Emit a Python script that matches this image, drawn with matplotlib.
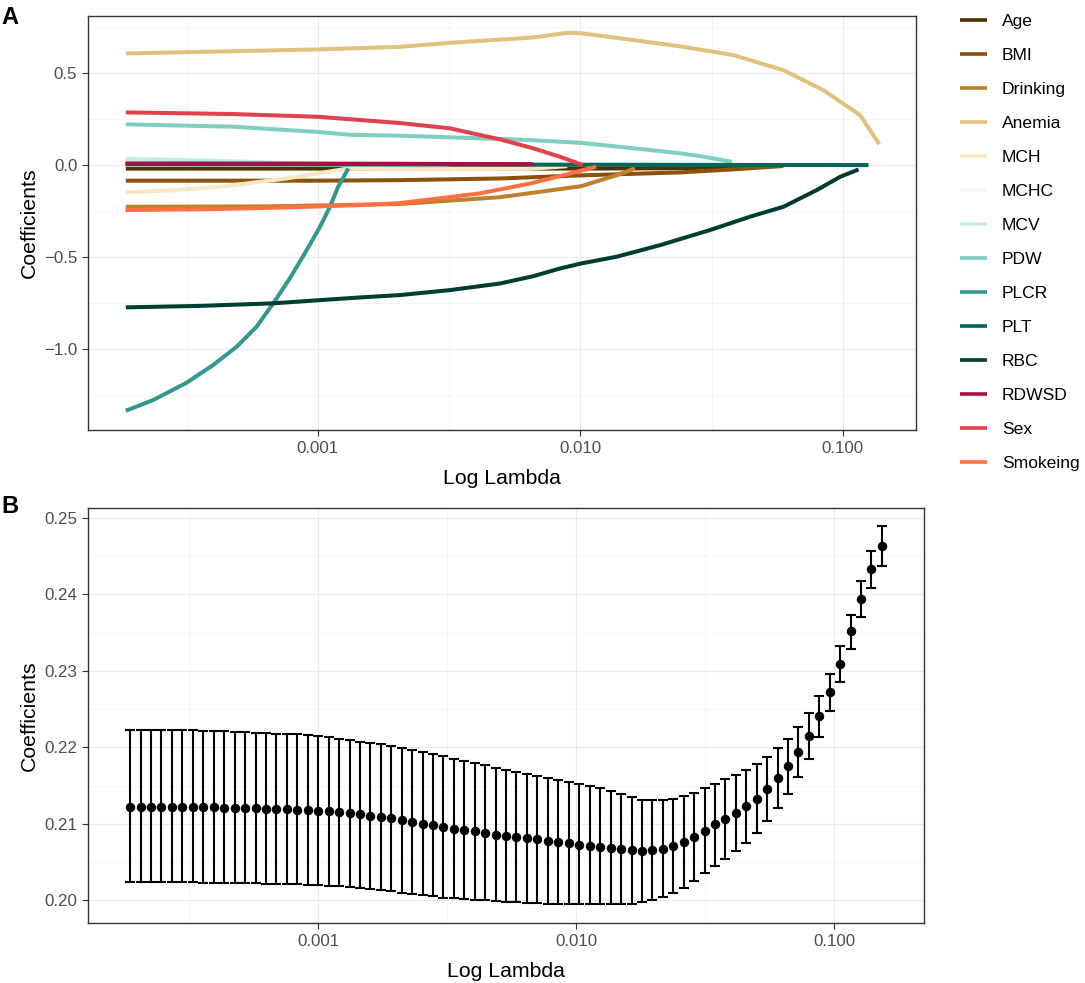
import numpy as np
import matplotlib
matplotlib.use("Agg")
from matplotlib import pyplot as plt
from matplotlib.lines import Line2D

plt.rcParams['font.family'] = ['Liberation Sans', 'DejaVu Sans']

# ---- panel A: coefficient paths (log10 lambda, coefficient) ----
variables = ['Age', 'BMI', 'Drinking', 'Anemia', 'MCH', 'MCHC', 'MCV', 'PDW',
             'PLCR', 'PLT', 'RBC', 'RDWSD', 'Sex', 'Smokeing']
colors = ['#543005', '#8C510A', '#BF812D', '#DFC27D', '#F6E8C3', '#F5F5F5',
          '#C7EAE5', '#80CDC1', '#35978F', '#01665E', '#003C30', '#A50F44',
          '#E0414F', '#FF7043']

age_x = [-3.732, -3.0, -2.5, -2.0, -1.62, -1.40, -1.227]
age_y = [-0.019, -0.019, -0.019, -0.019, -0.017, -0.011, -0.004]
bmi_x = [-3.732, -3.0, -2.687, -2.306, -1.997, -1.62, -1.40, -1.227]
bmi_y = [-0.085, -0.085, -0.082, -0.073, -0.056, -0.040, -0.022, -0.005]
drinking_x = [-3.732, -3.2, -2.687, -2.306, -1.997, -1.861, -1.792]
drinking_y = [-0.227, -0.225, -0.212, -0.175, -0.115, -0.055, -0.018]
anemia_x = [-3.732, -3.0, -2.687, -2.497, -2.179, -2.052, -1.997, -1.798,
            -1.607, -1.417, -1.226, -1.074, -0.934, -0.861]
anemia_y = [0.608, 0.630, 0.644, 0.666, 0.695, 0.720, 0.718, 0.681,
            0.644, 0.599, 0.517, 0.408, 0.272, 0.114]
mch_x = [-3.733, -3.55, -3.374, -3.119, -2.891, -2.6, -2.19, -2.05]
mch_y = [-0.149, -0.137, -0.118, -0.073, -0.020, -0.022, -0.020, -0.006]
mchc_x = [-3.733, -2.5]
mchc_y = [0.0, 0.0]
mcv_x = [-3.733, -3.4, -3.1, -2.9]
mcv_y = [0.034, 0.024, 0.010, 0.002]
pdw_x = [-3.732, -3.324, -3.005, -2.878, -2.687, -2.382, -2.19, -1.997,
         -1.734, -1.62, -1.544, -1.423]
pdw_y = [0.222, 0.209, 0.181, 0.165, 0.160, 0.146, 0.136, 0.121,
         0.082, 0.064, 0.049, 0.018]
plcr_x = [-3.732, -3.628, -3.501, -3.399, -3.310, -3.234, -3.170, -3.107,
          -3.050, -2.992, -2.954, -2.923, -2.884]
plcr_y = [-1.338, -1.280, -1.186, -1.089, -0.990, -0.881, -0.753, -0.617,
          -0.481, -0.336, -0.227, -0.118, -0.018]
plt_x = [-3.733, -2.5, -1.5, -0.902]
plt_y = [0.004, 0.003, 0.001, 0.0]
rbc_x = [-3.732, -3.45, -3.170, -2.840, -2.687, -2.497, -2.306, -2.179, -2.077,
         -1.997, -1.861, -1.696, -1.506, -1.353, -1.226, -1.099, -1.010, -0.940]
rbc_y = [-0.775, -0.767, -0.753, -0.721, -0.708, -0.681, -0.645, -0.605, -0.563,
         -0.536, -0.499, -0.436, -0.354, -0.281, -0.227, -0.136, -0.064, -0.024]
rdwsd_x = [-3.733, -3.0, -2.181]
rdwsd_y = [0.009, 0.008, 0.005]
sex_x = [-3.732, -3.324, -3.0, -2.687, -2.497, -2.306, -2.179, -2.077, -1.990]
sex_y = [0.287, 0.278, 0.263, 0.229, 0.200, 0.140, 0.091, 0.045, 0.0]
smoke_x = [-3.733, -3.4, -3.1, -2.84, -2.687, -2.382, -2.19, -2.05, -1.94]
smoke_y = [-0.245, -0.240, -0.230, -0.218, -0.207, -0.154, -0.100, -0.050, -0.009]

paths = [(age_x, age_y), (bmi_x, bmi_y), (drinking_x, drinking_y),
         (anemia_x, anemia_y), (mch_x, mch_y), (mchc_x, mchc_y), (mcv_x, mcv_y),
         (pdw_x, pdw_y), (plcr_x, plcr_y), (plt_x, plt_y), (rbc_x, rbc_y),
         (rdwsd_x, rdwsd_y), (sex_x, sex_y), (smoke_x, smoke_y)]

# ---- panel B: cross-validation curve ----
log_lambda = [-3.729, -3.689, -3.648, -3.608, -3.567, -3.527, -3.486, -3.446,
              -3.405, -3.365, -3.324, -3.284, -3.243, -3.203, -3.162, -3.122,
              -3.081, -3.041, -3.000, -2.960, -2.920, -2.879, -2.839, -2.798,
              -2.758, -2.717, -2.677, -2.636, -2.596, -2.555, -2.515, -2.474,
              -2.434, -2.393, -2.353, -2.313, -2.272, -2.232, -2.191, -2.151,
              -2.110, -2.070, -2.029, -1.989, -1.948, -1.908, -1.867, -1.827,
              -1.786, -1.746, -1.706, -1.665, -1.625, -1.584, -1.544, -1.503,
              -1.463, -1.422, -1.382, -1.341, -1.301, -1.260, -1.220, -1.179,
              -1.139, -1.099, -1.058, -1.018, -0.977, -0.937, -0.896, -0.856,
              -0.815]
cv_mean = [0.21219, 0.21219, 0.21219, 0.21219, 0.21219, 0.21219, 0.21219, 0.21215,
           0.21215, 0.21211, 0.21211, 0.21206, 0.21202, 0.21198, 0.21193, 0.21189,
           0.21185, 0.21176, 0.21172, 0.21163, 0.21154, 0.21141, 0.21124, 0.21106,
           0.21089, 0.21071, 0.21045, 0.21023, 0.21002, 0.20980, 0.20958, 0.20936,
           0.20919, 0.20901, 0.20880, 0.20854, 0.20836, 0.20823, 0.20810, 0.20797,
           0.20775, 0.20758, 0.20745, 0.20727, 0.20710, 0.20697, 0.20679, 0.20666,
           0.20653, 0.20649, 0.20657, 0.20675, 0.20709, 0.20762, 0.20827, 0.20910,
           0.20993, 0.21062, 0.21137, 0.21228, 0.21324, 0.21450, 0.21594, 0.21755,
           0.21934, 0.22147, 0.22404, 0.22718, 0.23093, 0.23515, 0.23942, 0.24334,
           0.24634]
cv_upper = [0.22225, 0.22225, 0.22225, 0.22225, 0.22225, 0.22225, 0.22221, 0.22217,
            0.22212, 0.22208, 0.22199, 0.22195, 0.22186, 0.22182, 0.22178, 0.22173,
            0.22169, 0.22160, 0.22151, 0.22135, 0.22115, 0.22090, 0.22075, 0.22057,
            0.22038, 0.22021, 0.21995, 0.21968, 0.21938, 0.21912, 0.21881, 0.21851,
            0.21820, 0.21790, 0.21764, 0.21733, 0.21703, 0.21672, 0.21655, 0.21629,
            0.21603, 0.21577, 0.21550, 0.21520, 0.21489, 0.21463, 0.21428, 0.21385,
            0.21350, 0.21316, 0.21307, 0.21310, 0.21324, 0.21359, 0.21406, 0.21467,
            0.21524, 0.21585, 0.21633, 0.21699, 0.21777, 0.21868, 0.21986, 0.22109,
            0.22260, 0.22447, 0.22669, 0.22957, 0.23319, 0.23733, 0.24172, 0.24573,
            0.24890]
cv_lower = [0.20235, 0.20235, 0.20235, 0.20235, 0.20235, 0.20234, 0.20233, 0.20232,
            0.20231, 0.20229, 0.20227, 0.20225, 0.20222, 0.20219, 0.20216, 0.20212,
            0.20208, 0.20203, 0.20198, 0.20193, 0.20187, 0.20174, 0.20161, 0.20148,
            0.20131, 0.20118, 0.20096, 0.20078, 0.20065, 0.20052, 0.20035, 0.20026,
            0.20017, 0.20009, 0.20000, 0.19991, 0.19983, 0.19974, 0.19965, 0.19961,
            0.19956, 0.19952, 0.19952, 0.19948, 0.19948, 0.19948, 0.19948, 0.19948,
            0.19957, 0.19974, 0.20004, 0.20043, 0.20095, 0.20166, 0.20252, 0.20353,
            0.20448, 0.20545, 0.20644, 0.20754, 0.20884, 0.21032, 0.21207, 0.21394,
            0.21607, 0.21851, 0.22139, 0.22474, 0.22861, 0.23288, 0.23706, 0.24085,
            0.24377]

W, H = 1085, 983
fig = plt.figure(figsize=(W / 100, H / 100), dpi=100)
fig.patch.set_facecolor('white')


def style_axes(ax, yticks, ylabels, yminor, xlim):
    ax.set_xscale('log')
    ax.set_xlim(*xlim)
    ax.set_xticks([0.001, 0.01, 0.1])
    ax.set_xticklabels(['0.001', '0.010', '0.100'])
    ax.set_xticks([10 ** -3.5, 10 ** -2.5, 10 ** -1.5], minor=True)
    ax.set_yticks(yticks)
    ax.set_yticklabels(ylabels)
    ax.set_yticks(yminor, minor=True)
    ax.grid(True, which='major', color='#EBEBEB', linewidth=0.8, zorder=0)
    ax.grid(True, which='minor', color='#F2F2F2', linewidth=0.5, zorder=0)
    ax.set_axisbelow(True)
    ax.tick_params(which='major', length=4.5, width=0.8, color='#333333',
                   labelsize=12.2, labelcolor='#4D4D4D', pad=3.2)
    ax.tick_params(which='minor', length=0)
    for s in ax.spines.values():
        s.set_color('#333333')
        s.set_linewidth(1.0)
    ax.set_xlabel('Log Lambda', fontsize=15.3, labelpad=9.5)
    ax.set_ylabel('Coefficients', fontsize=15.3, labelpad=4)


# panel A
axA = fig.add_axes([88 / W, 1 - 430 / H, (916 - 88) / W, (430 - 16) / H])
for name, col, (px, py) in zip(variables, colors, paths):
    axA.plot(10 ** np.array(px), py, color=col, lw=2.9, solid_capstyle='butt',
             solid_joinstyle='round', label=name, zorder=3)
style_axes(axA, [0.5, 0.0, -0.5, -1.0], ['0.5', '0.0', '\u22120.5', '\u22121.0'],
           [0.75, 0.25, -0.25, -0.75, -1.25], (10 ** -3.876, 10 ** -0.721))
axA.set_ylim(-1.443, 0.812)

handles = [Line2D([0], [0], color=c, lw=2.6, solid_capstyle='butt') for c in colors]
fig.legend(handles, variables, loc='upper left', bbox_to_anchor=(960 / W, 1 - 14 / H),
           frameon=False, fontsize=12.6, handlelength=1.55, handletextpad=0.85,
           labelspacing=1.07, borderpad=0, borderaxespad=0)

# panel B
axB = fig.add_axes([88 / W, 1 - 923 / H, (924 - 88) / W, (923 - 508) / H])
lam = 10 ** np.array(log_lambda)
mean = np.array(cv_mean)
err = [mean - np.array(cv_lower), np.array(cv_upper) - mean]
axB.errorbar(lam, mean, yerr=err, fmt='o', color='black', ms=5.8, elinewidth=1.5,
             capsize=3.3, capthick=1.5, zorder=3)
style_axes(axB, [0.20, 0.21, 0.22, 0.23, 0.24, 0.25],
           ['0.20', '0.21', '0.22', '0.23', '0.24', '0.25'],
           [0.205, 0.215, 0.225, 0.235, 0.245], (10 ** -3.8926, 10 ** -0.6523))
axB.set_ylim(0.19703, 0.2513)

fig.text(1 / W, 1 - 24 / H, 'A', fontsize=17, fontweight='bold', va='baseline')
fig.text(1 / W, 1 - 513 / H, 'B', fontsize=17, fontweight='bold', va='baseline')

fig.savefig('out.png', dpi=100)
